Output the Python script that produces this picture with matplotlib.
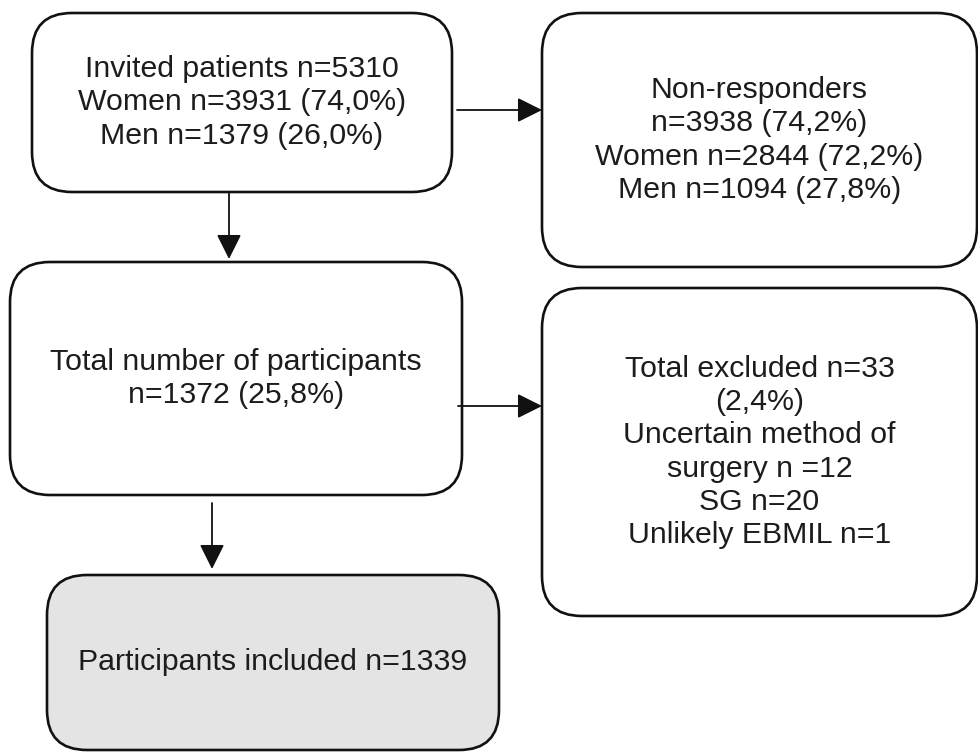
import matplotlib
matplotlib.use("Agg")
import matplotlib.pyplot as plt
from matplotlib.patches import FancyBboxPatch

# ---- content ----
box_texts = [
    "Invited patients n=5310\nWomen n=3931 (74,0%)\nMen n=1379 (26,0%)",
    "Non-responders\nn=3938 (74,2%)\nWomen n=2844 (72,2%)\nMen n=1094 (27,8%)",
    "Total number of participants\nn=1372 (25,8%)",
    "Total excluded n=33\n(2,4%)\nUncertain method of\nsurgery n =12\nSG n=20\nUnlikely EBMIL n=1",
    "Participants included n=1339",
]
box_fill = ["white", "white", "white", "white", "#e4e4e4"]

# layout (pixel coords: x0, y0, x1, y1)
box_rects = [
    (32, 13, 452, 192),
    (542, 13, 977, 267),
    (10, 262, 462, 495),
    (542, 288, 977, 616),
    (47, 575, 499, 750),
]
arrows = [
    ((457, 110), (542, 110)),
    ((229, 192), (229, 259)),
    ((458, 406), (542, 406)),
    ((212, 503), (212, 569)),
]

W, H = 979, 756
fig = plt.figure(figsize=(W / 100, H / 100), dpi=100)
ax = fig.add_axes([0, 0, 1, 1])
ax.set_xlim(0, W)
ax.set_ylim(H, 0)
ax.axis("off")

for (x0, y0, x1, y1), txt, fc in zip(box_rects, box_texts, box_fill):
    p = FancyBboxPatch((x0, y0), x1 - x0, y1 - y0,
                       boxstyle="round,pad=0,rounding_size=40",
                       fc=fc, ec="#111111", lw=1.9)
    ax.add_patch(p)
    ax.text((x0 + x1) / 2, (y0 + y1) / 2, txt, ha="center", va="center",
            fontsize=21.8, family=["Liberation Sans", "DejaVu Sans"],
            color="#1c1c1c", linespacing=1.24)

for (sx, sy), (ex, ey) in arrows:
    ax.annotate("", xy=(ex, ey), xytext=(sx, sy),
                arrowprops=dict(arrowstyle="-|>,head_length=0.8,head_width=0.4",
                                mutation_scale=19, lw=1.3, color="#111111",
                                shrinkA=0, shrinkB=0))

fig.savefig("out.png", dpi=100)
